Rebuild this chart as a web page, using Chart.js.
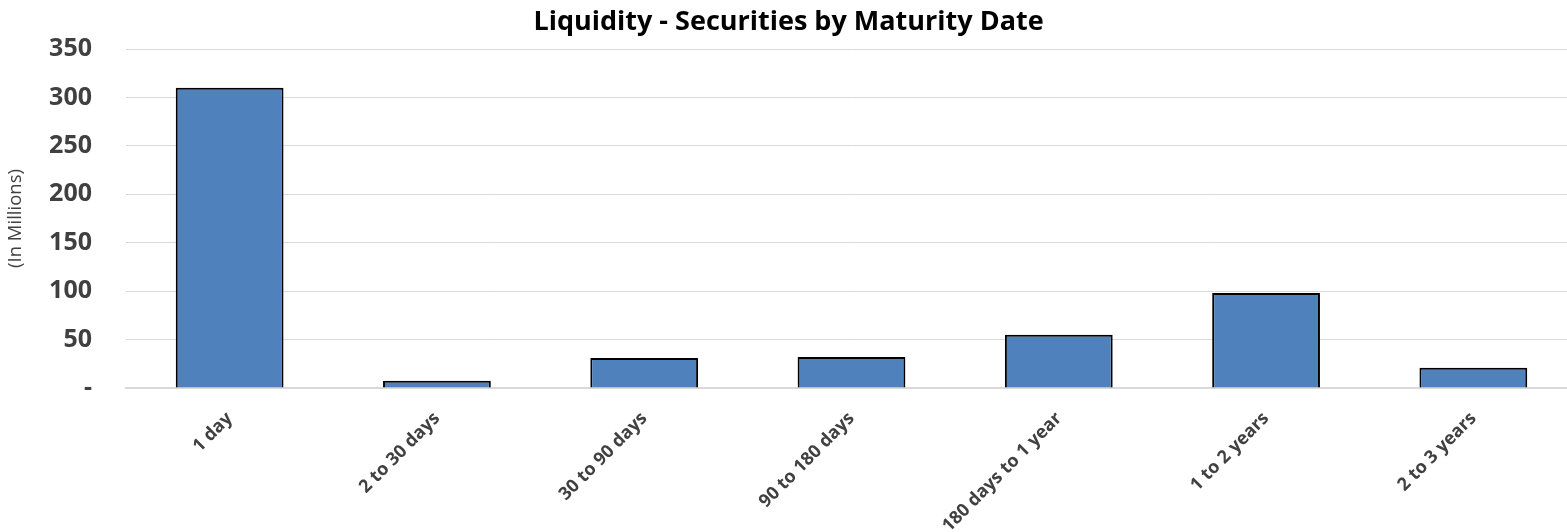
<!DOCTYPE html>
<html>
<head>
<meta charset="utf-8">
<title>Liquidity - Securities by Maturity Date</title>
<script src="https://cdn.jsdelivr.net/npm/chart.js@4.4.1/dist/chart.umd.min.js"></script>
<style>
    html, body { margin: 0; padding: 0; background: #ffffff; overflow: hidden; }
    /* canvas is a bit wider than the window: the plot area runs past the right edge like the original */
    #wrap { width: 1587px; height: 532px; position: relative; }
</style>
</head>
<body>
<div id="wrap"><canvas id="maturityChart"></canvas></div>
<script>
// Chart data
const categories = ['1 day', '2 to 30 days', '30 to 90 days', '90 to 180 days', '180 days to 1 year', '1 to 2 years', '2 to 3 years'];
const amounts = [310, 7.5, 31, 32, 55, 98, 21];
const yTicks = [0, 50, 100, 150, 200, 250, 300, 350];

const textColor = '#404040';
const fontFamily = "'Open Sans', 'Noto Sans', sans-serif";

// Build the chart
function createMaturityChart() {
    const ctx = document.getElementById('maturityChart').getContext('2d');

    new Chart(ctx, {
        type: 'bar',
        data: {
            labels: categories,
            datasets: [{
                label: 'Securities',
                data: amounts,
                backgroundColor: '#4f81bd',
                borderColor: '#000000',
                borderWidth: 2,
                barPercentage: 0.52,
                categoryPercentage: 1.0
            }]
        },
        options: {
            responsive: true,
            maintainAspectRatio: false,
            animation: false,
            layout: {
                padding: { left: 0, right: 10, top: 0, bottom: 0 }
            },
            plugins: {
                legend: { display: false },
                tooltip: { enabled: false },
                title: {
                    display: true,
                    text: 'Liquidity - Securities by Maturity Date',
                    color: '#000000',
                    font: { family: fontFamily, size: 27, weight: 'bold', lineHeight: 1.2 },
                    padding: { top: 5, bottom: 10 }
                }
            },
            scales: {
                x: {
                    grid: { display: false, drawTicks: false },
                    border: { display: true, color: '#d9d9d9', width: 2 },
                    afterFit: function(axis) {
                        // keep the plot bottom where the reference has it
                        axis.height = 144;
                    },
                    ticks: {
                        color: textColor,
                        font: { family: fontFamily, size: 18, weight: 'bold' },
                        maxRotation: 45,
                        minRotation: 45,
                        padding: 20,
                        autoSkip: false
                    }
                },
                y: {
                    min: 0,
                    max: 350,
                    afterBuildTicks: function(axis) {
                        axis.ticks = yTicks.map(v => ({ value: v }));
                    },
                    afterFit: function(axis) {
                        axis.width = 126;
                    },
                    grid: { color: '#d9d9d9', lineWidth: 1, drawTicks: false },
                    border: { display: false },
                    title: {
                        display: true,
                        text: '(In Millions)',
                        color: textColor,
                        font: { family: fontFamily, size: 18.5 },
                        padding: { top: 5, bottom: 0 }
                    },
                    ticks: {
                        color: textColor,
                        font: { family: fontFamily, size: 25, weight: 'bold' },
                        padding: 34,
                        callback: function(value) {
                            return value === 0 ? '-' : value;
                        }
                    }
                }
            }
        }
    });
}

document.addEventListener('DOMContentLoaded', createMaturityChart);
</script>
</body>
</html>
